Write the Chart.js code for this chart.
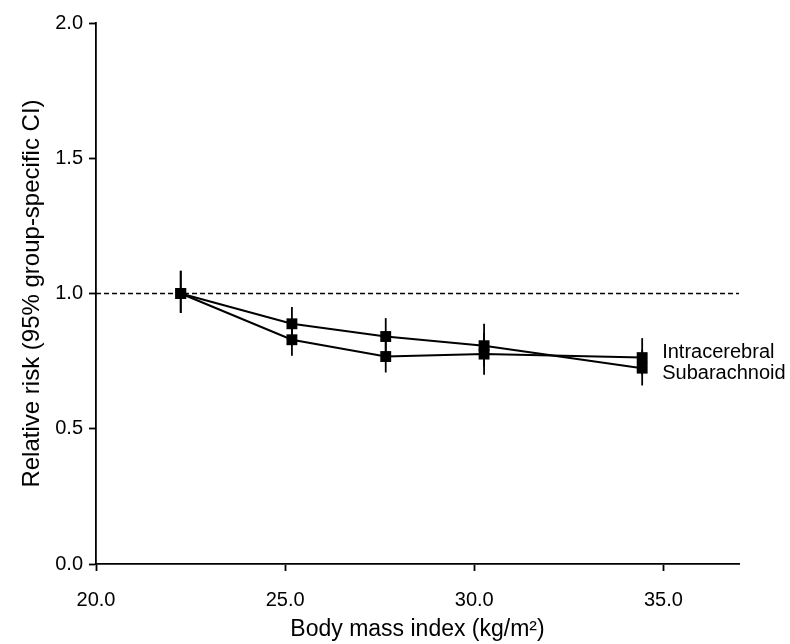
<!DOCTYPE html>
<html>
<head>
<meta charset="utf-8">
<script src="https://cdn.jsdelivr.net/npm/chart.js@4.4.1/dist/chart.umd.min.js"></script>
<style>
  html, body { margin: 0; padding: 0; background: #fff; }
  #wrap { width: 790px; height: 644px; }
</style>
</head>
<body>
<div id="wrap"><canvas id="chart"></canvas></div>
<script>
// values
const bmi = [22.24, 25.18, 27.66, 30.26, 34.44];
const intracerebralRR = [1.0, 0.829, 0.767, 0.776, 0.763];
const intracerebralLo = [0.928, 0.770, 0.708, 0.700, 0.700];
const intracerebralHi = [1.084, 0.890, 0.830, 0.855, 0.835];
const subarachnoidRR = [1.0, 0.888, 0.841, 0.807, 0.724];
const subarachnoidLo = [0.928, 0.830, 0.775, 0.730, 0.660];
const subarachnoidHi = [1.084, 0.950, 0.909, 0.888, 0.790];
const xTicks = [20, 25, 30, 35];
const yTicks = [0, 0.5, 1.0, 1.5, 2.0];
const refX = [20, 37];
const refY = [1, 1];

const toPoints = (xs, ys) => xs.map((x, i) => ({ x: x, y: ys[i] }));

Chart.defaults.font.family = '"Liberation Sans", Arial, sans-serif';
Chart.defaults.color = '#000';

// vertical CI bars + series names at the end of each line
const errorBars = {
  id: 'errorBars',
  beforeDatasetsDraw(chart) {
    const ctx = chart.ctx;
    const xs = chart.scales.x;
    const ys = chart.scales.y;
    ctx.save();
    ctx.strokeStyle = '#000';
    ctx.lineWidth = 1.8;
    chart.data.datasets.forEach(ds => {
      if (!ds.lo) return;
      ds.data.forEach((p, i) => {
        const px = xs.getPixelForValue(p.x);
        ctx.beginPath();
        ctx.moveTo(px, ys.getPixelForValue(ds.lo[i]));
        ctx.lineTo(px, ys.getPixelForValue(ds.hi[i]));
        ctx.stroke();
      });
    });
    ctx.restore();
  },
  afterDatasetsDraw(chart) {
    const ctx = chart.ctx;
    const xs = chart.scales.x;
    const ys = chart.scales.y;
    ctx.save();
    ctx.fillStyle = '#000';
    ctx.font = '20px "Liberation Sans", Arial, sans-serif';
    ctx.textBaseline = 'middle';
    ctx.textAlign = 'left';
    chart.data.datasets.forEach(ds => {
      if (!ds.lo) return;
      const last = ds.data[ds.data.length - 1];
      ctx.fillText(ds.label, xs.getPixelForValue(last.x) + 20, ys.getPixelForValue(last.y) + ds.labelShift);
    });
    ctx.restore();
  }
};

const seriesStyle = {
  borderColor: '#000',
  backgroundColor: '#000',
  borderWidth: 2,
  pointStyle: 'rect',
  pointRadius: 7.7,
  pointHoverRadius: 7.7,
  pointBorderWidth: 0,
  showLine: true,
  tension: 0
};

new Chart(document.getElementById('chart'), {
  type: 'scatter',
  data: {
    datasets: [
      {
        label: 'reference',
        data: toPoints(refX, refY),
        showLine: true,
        borderColor: '#000',
        borderWidth: 1.6,
        borderDash: [5, 3],
        pointRadius: 0,
        order: 3
      },
      Object.assign({
        label: 'Intracerebral',
        data: toPoints(bmi, intracerebralRR),
        lo: intracerebralLo,
        hi: intracerebralHi,
        labelShift: -5,
        order: 1
      }, seriesStyle),
      Object.assign({
        label: 'Subarachnoid',
        data: toPoints(bmi, subarachnoidRR),
        lo: subarachnoidLo,
        hi: subarachnoidHi,
        labelShift: 5,
        order: 2
      }, seriesStyle)
    ]
  },
  options: {
    responsive: true,
    maintainAspectRatio: false,
    animation: false,
    layout: { padding: { top: 23, right: 51, left: 0, bottom: 0 } },
    plugins: {
      legend: { display: false },
      tooltip: { enabled: false }
    },
    scales: {
      x: {
        type: 'linear',
        min: 20,
        max: 37,
        afterBuildTicks: s => { s.ticks = xTicks.map(v => ({ value: v })); },
        afterFit: s => { s.height = 80; },
        border: { display: true, color: '#000', width: 1.8 },
        grid: { drawOnChartArea: false, drawTicks: true, tickLength: 7, tickWidth: 1.8, tickColor: '#000' },
        ticks: { padding: 17, font: { size: 20 }, callback: v => v.toFixed(1) },
        title: { display: true, text: 'Body mass index (kg/m²)', font: { size: 23 }, padding: { top: 0, bottom: 1 } }
      },
      y: {
        type: 'linear',
        min: 0,
        max: 2,
        afterBuildTicks: s => { s.ticks = yTicks.map(v => ({ value: v })); },
        afterFit: s => { s.width = 96; },
        border: { display: true, color: '#000', width: 1.8 },
        grid: { drawOnChartArea: false, drawTicks: true, tickLength: 7, tickWidth: 1.8, tickColor: '#000' },
        ticks: { padding: 6, font: { size: 20 }, callback: v => v.toFixed(1) },
        title: { display: true, text: 'Relative risk (95% group-specific CI)', font: { size: 24 }, padding: { top: 18, bottom: 0 } }
      }
    }
  },
  plugins: [errorBars]
});
</script>
</body>
</html>
